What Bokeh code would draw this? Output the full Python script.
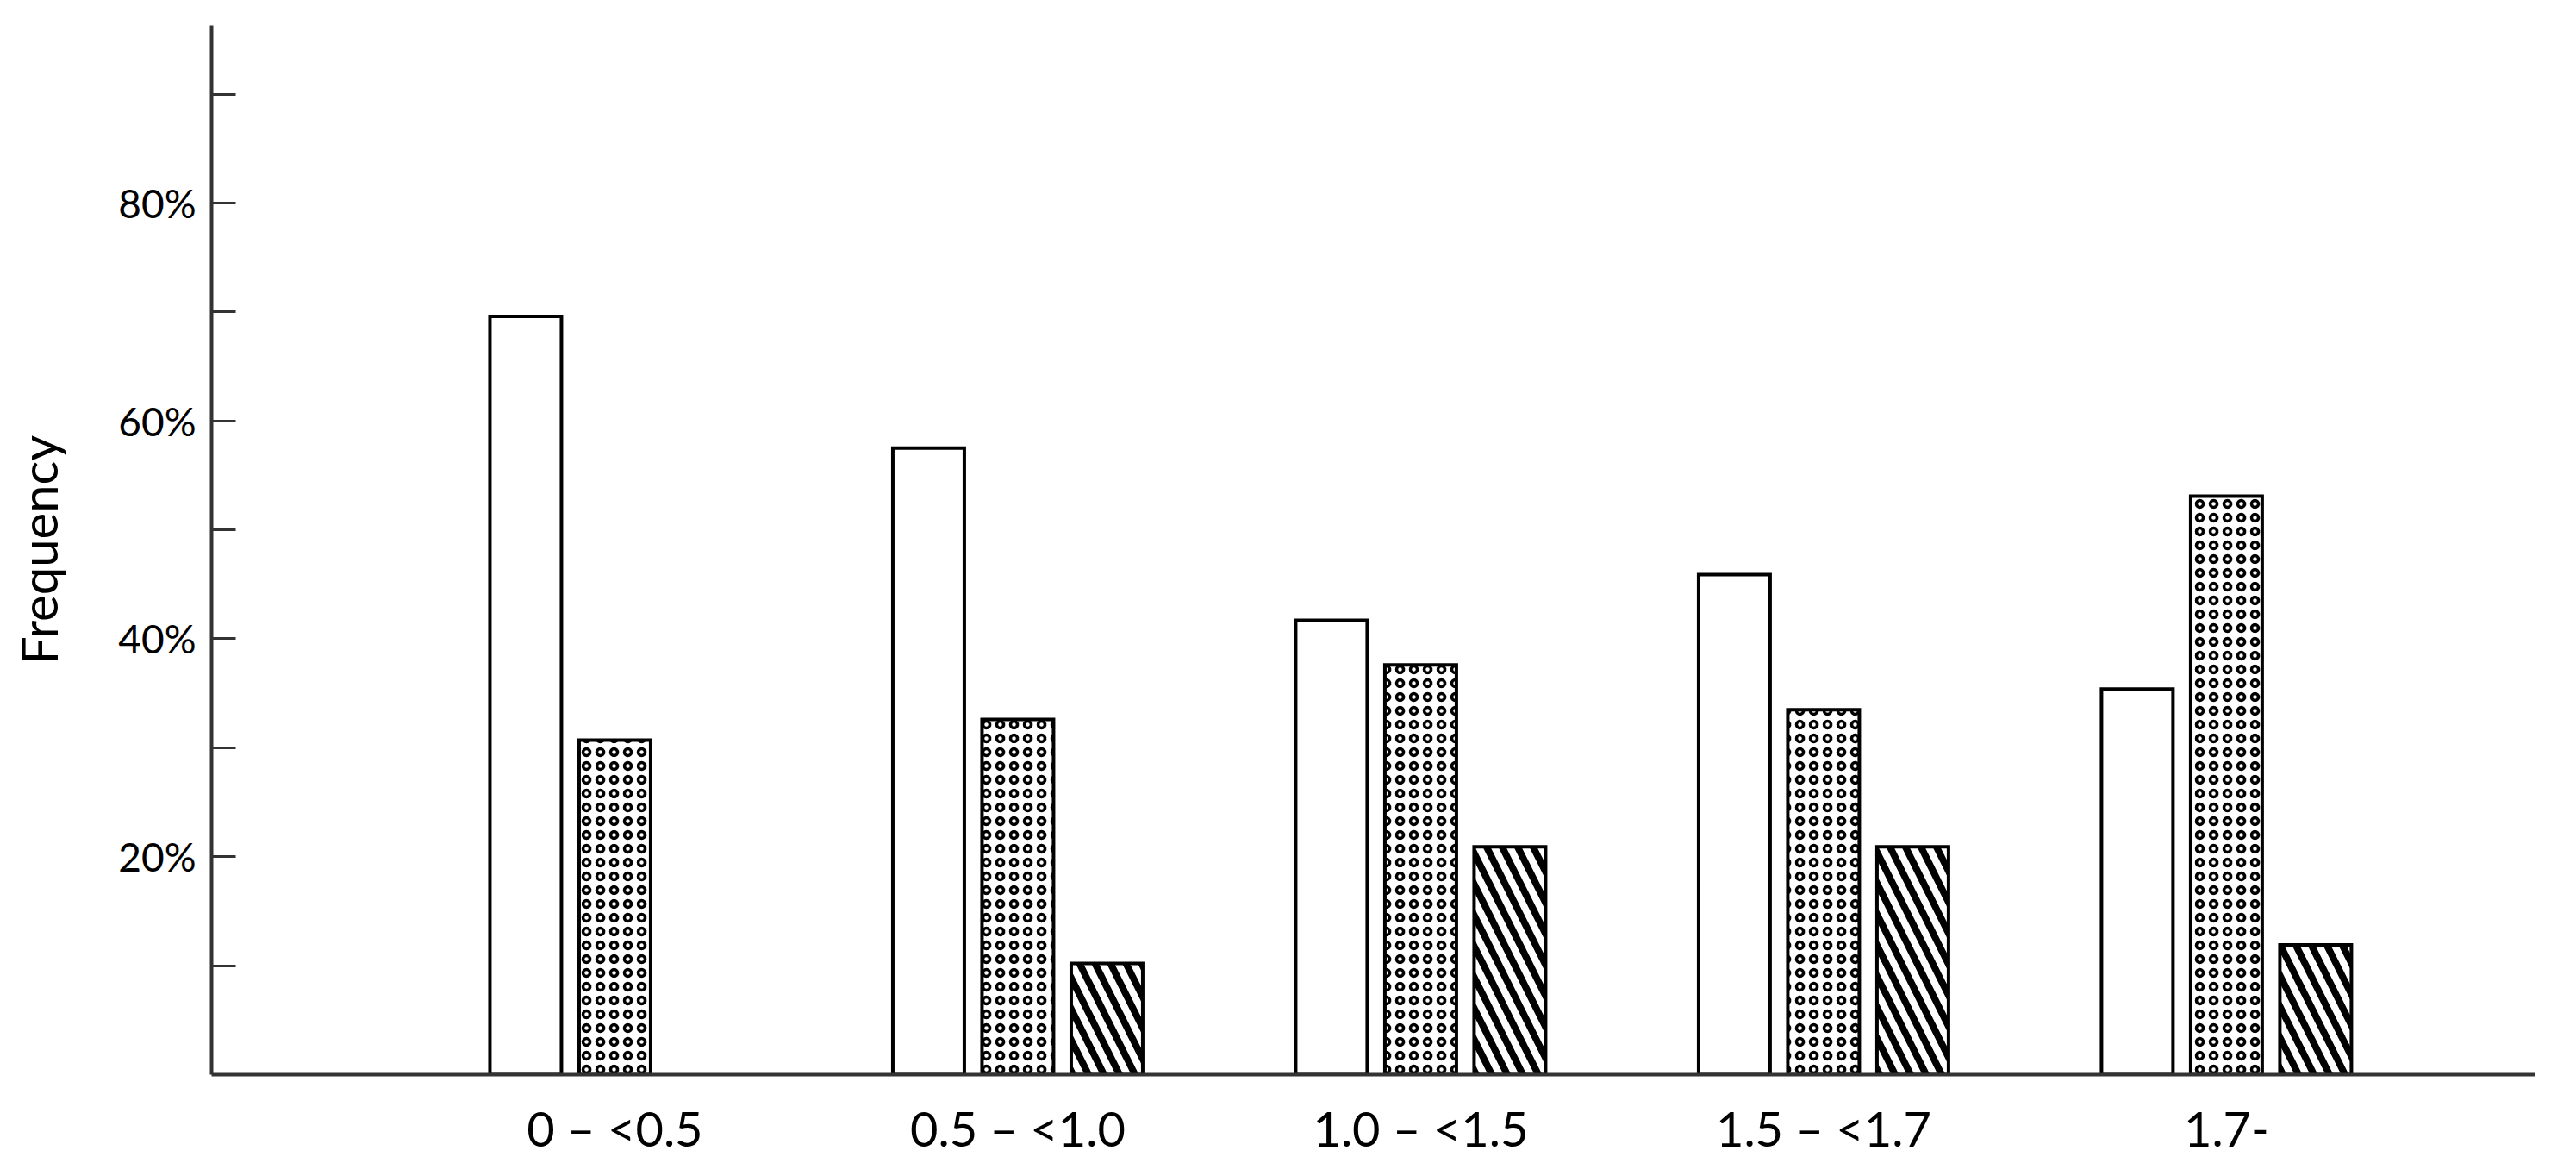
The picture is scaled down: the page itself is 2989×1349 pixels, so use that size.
import math
from bokeh.plotting import figure
from bokeh.models import Range1d, FixedTicker, ColumnDataSource
from bokeh.transform import dodge
from bokeh.embed import file_html
from bokeh.resources import INLINE

# ---- data ----
categories = ["0 – <0.5", "0.5 – <1.0", "1.0 – <1.5", "1.5 – <1.7", "1.7-"]
series_plain = [69.6, 57.5, 41.7, 45.9, 35.4]
series_dotted = [30.7, 32.6, 37.6, 33.5, 53.1]
series_striped = [float("nan"), 10.2, 20.9, 20.9, 11.9]
y_ticks = [10, 20, 30, 40, 50, 60, 70, 80, 90]
y_tick_labels = ["", "20%", "", "40%", "", "60%", "", "80%", ""]

source = ColumnDataSource(dict(
    x=list(range(len(categories))),
    cat=categories,
    plain=series_plain,
    dotted=series_dotted,
    striped=series_striped,
))

p = figure(frame_width=2696, frame_height=1217,
           x_range=Range1d(-1.001, 4.766), y_range=Range1d(0, 96.3),
           output_backend="svg", toolbar_location=None,
           min_border_left=245, min_border_right=32,
           min_border_top=29, min_border_bottom=87)
p.outline_line_color = None
p.xgrid.visible = False
p.ygrid.visible = False
p.background_fill_color = "white"

offset = 0.2214
bw = 0.1775
common = dict(width=bw, line_color="black", line_width=4, line_join="miter",
              fill_color="white", source=source)
p.vbar(x=dodge("x", -offset), top="plain", **common)
p.vbar(x="x", top="dotted", hatch_pattern="ring", hatch_scale=16,
       hatch_weight=3.5, hatch_color="black", **common)
p.vbar(x=dodge("x", offset), top="striped", hatch_pattern="left_diagonal_line",
       hatch_scale=36, hatch_weight=8, hatch_color="black", **common)

axis_color = "#333333"

# x axis
xa = p.xaxis[0]
xa.ticker = FixedTicker(ticks=list(range(len(categories))))
xa.major_label_overrides = {i: c for i, c in enumerate(categories)}
xa.major_tick_line_color = None
xa.minor_tick_line_color = None
xa.axis_line_color = axis_color
xa.axis_line_width = 4
xa.major_label_text_font = "Lato"
xa.major_label_text_font_size = "56px"
xa.major_label_text_color = "black"
xa.major_label_standoff = 22

# y axis
ya = p.yaxis[0]
ya.ticker = FixedTicker(ticks=y_ticks)
ya.major_label_overrides = {t: l for t, l in zip(y_ticks, y_tick_labels)}
ya.major_tick_in = 28
ya.major_tick_out = 0
ya.major_tick_line_width = 3
ya.major_tick_line_color = axis_color
ya.minor_tick_line_color = None
ya.axis_line_color = axis_color
ya.axis_line_width = 4
ya.major_label_text_font = "Lato"
ya.major_label_text_font_size = "46px"
ya.major_label_text_color = "black"
ya.major_label_standoff = 18
ya.axis_label = "Frequency"
ya.axis_label_text_font = "Lato"
ya.axis_label_text_font_size = "58px"
ya.axis_label_text_font_style = "normal"
ya.axis_label_text_color = "black"
ya.axis_label_standoff = 55

open("out.html", "w").write(file_html(p, INLINE))
